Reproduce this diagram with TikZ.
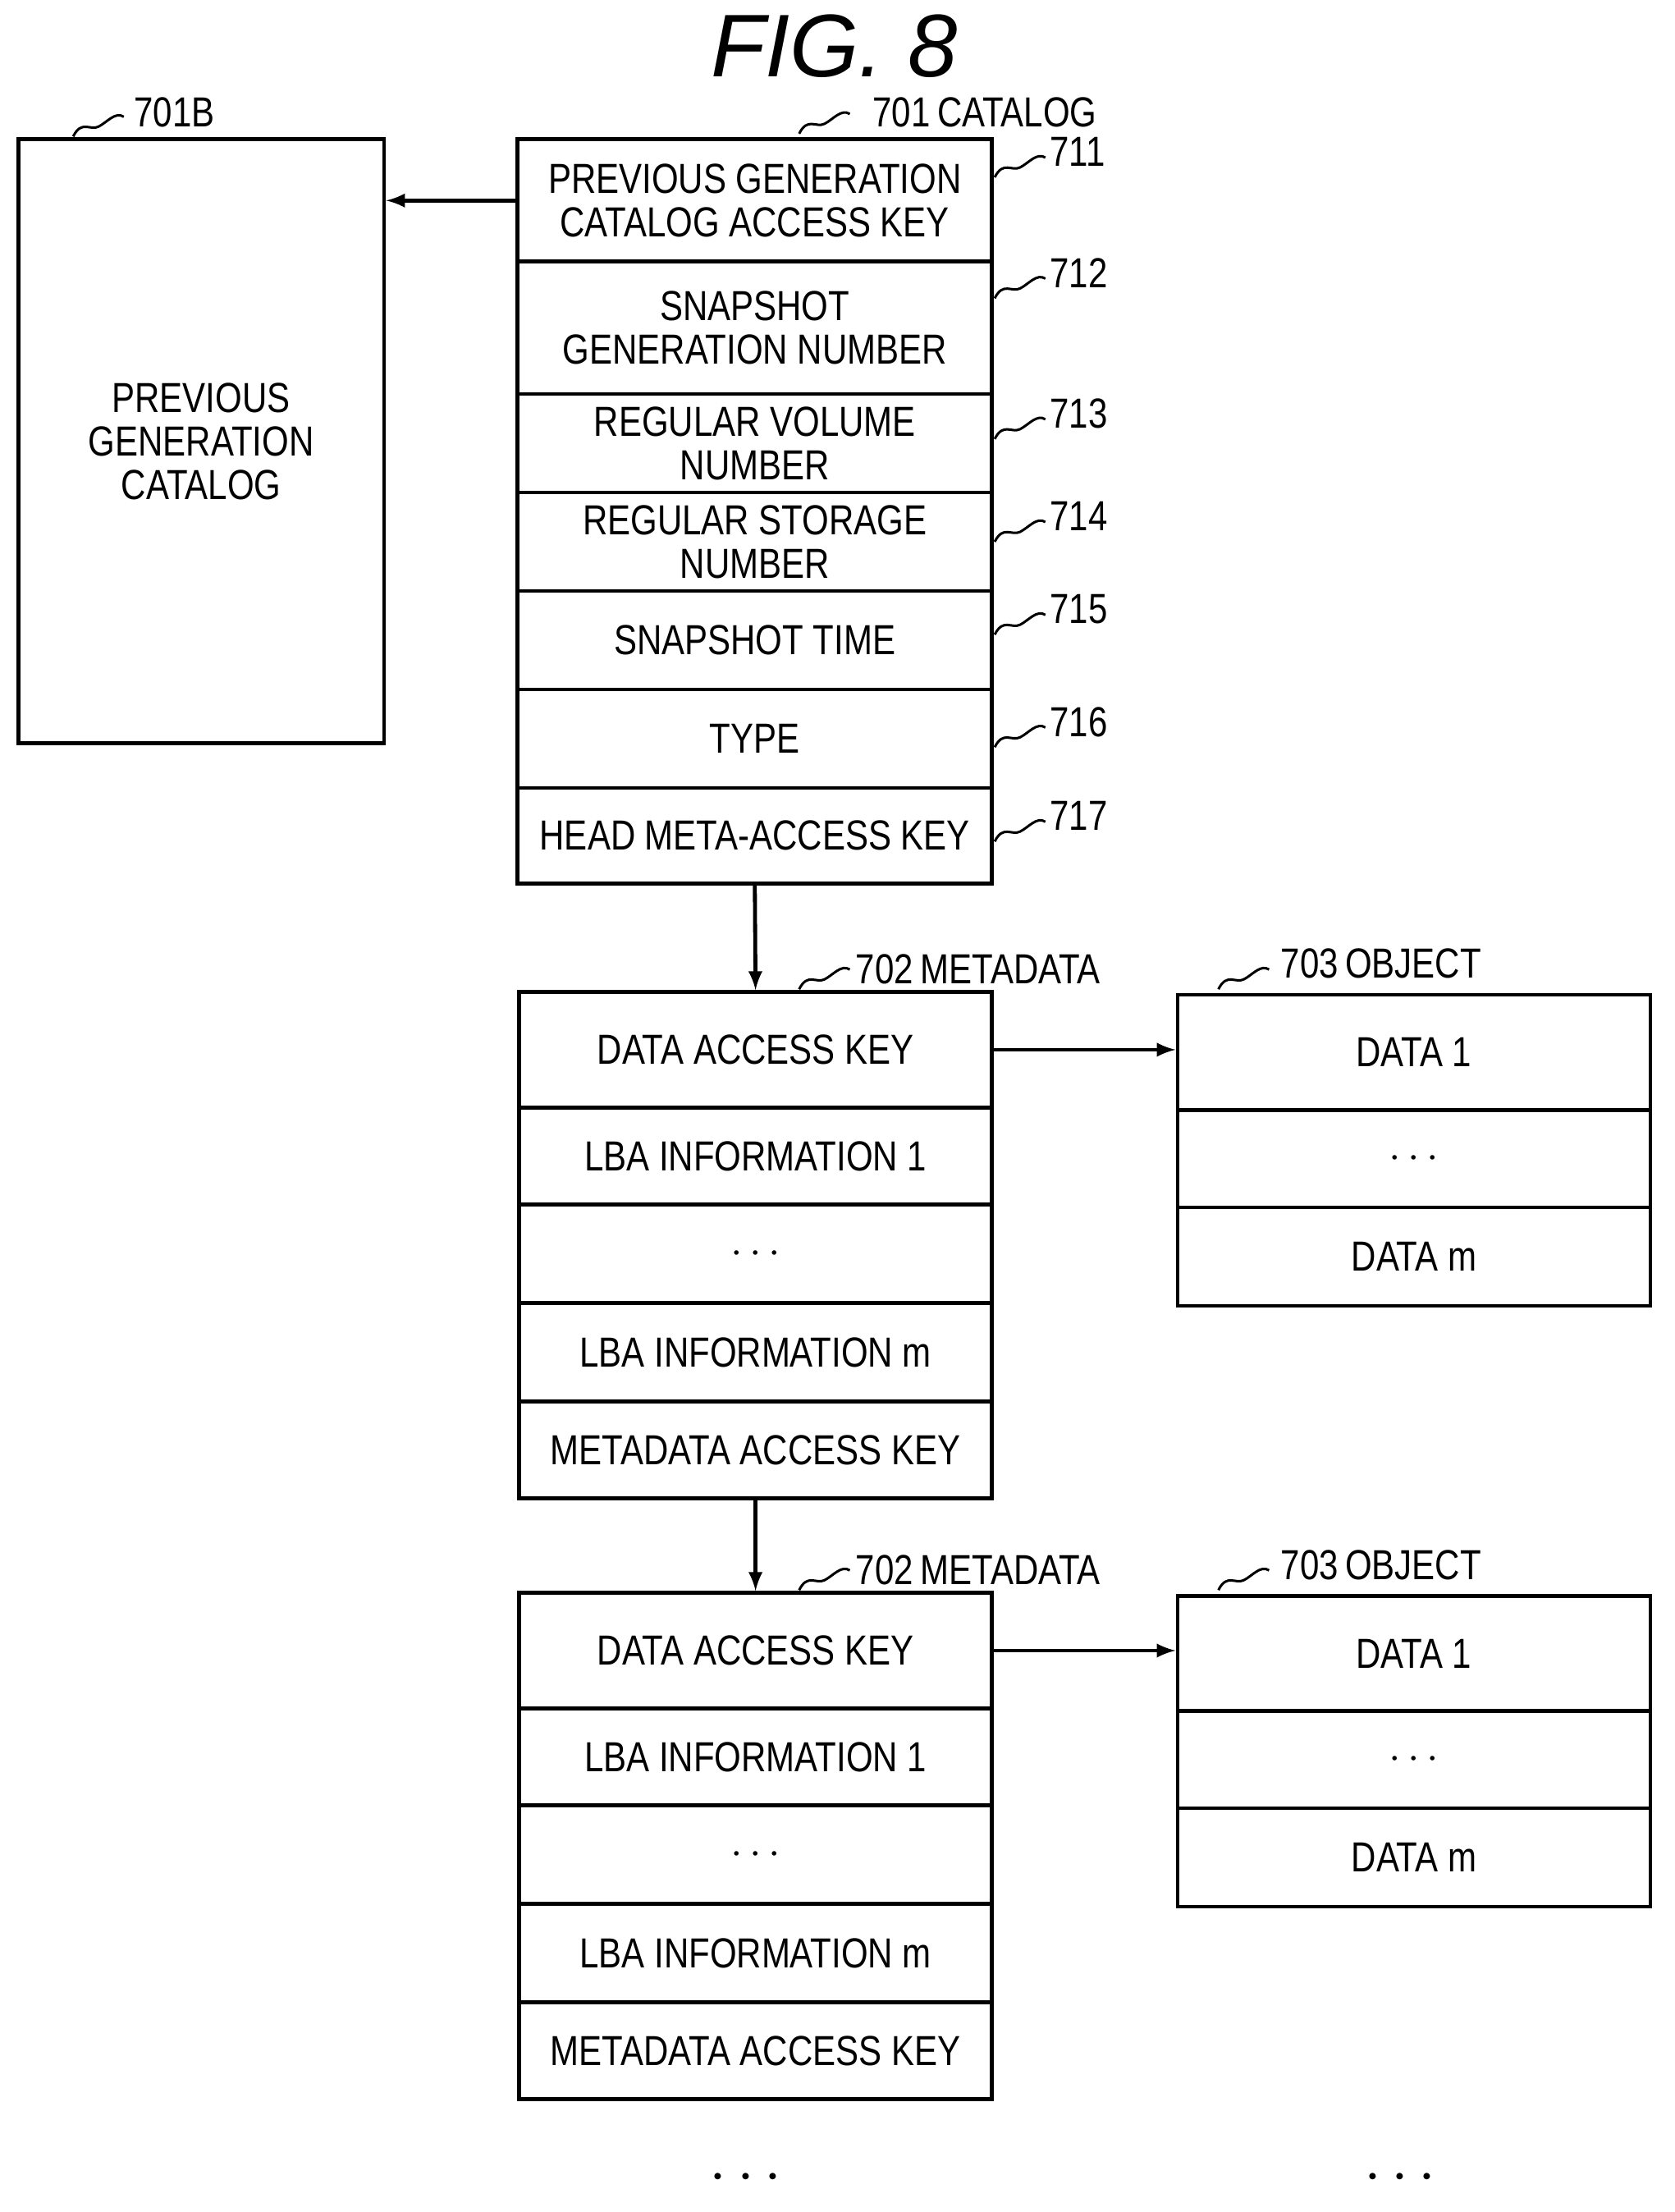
\documentclass[tikz,border=0pt]{standalone}
\usepackage{fontspec}
\setmainfont[FakeStretch=0.82]{Liberation Sans}
\newfontfamily\titlefont{Liberation Sans}
\usetikzlibrary{positioning}
\tikzset{
  Box/.style={draw,line width=1.6pt,align=center,inner sep=0pt,
    font=\fontsize{17}{17.6}\selectfont},
  Ref/.style={anchor=west,inner sep=0pt,font=\fontsize{17}{18}\selectfont},
  Arrow/.style={-latex,line width=1.6pt},
  squig/.pic={\draw[line width=1pt] (0,0) .. controls (6,-12) and (12,-4) .. (18,-7)
     .. controls (24,-10) and (30,-18) .. (36,-14);}
}
% rows: name, x-left, y-top, width, height, text
\newcommand{\Row}[6]{%
  \node[Box,minimum width=#4*0.02cm,minimum height=#5*0.02cm] (#1) at (#2+#4/2,#3+#5/2) {#6};}
\begin{document}
\begin{tikzpicture}[x=0.02cm,y=-0.02cm]
  \useasboundingbox (0,0) rectangle (1190,1572);
  \node[font=\titlefont\itshape\fontsize{36}{40}\selectfont] (title) at (593,33) {FIG. 8};

  % previous generation catalog
  \Row{prev}{13}{99}{260}{429}{PREVIOUS\\GENERATION\\CATALOG}
  \node[Box,draw=none] at (140,318) {};
  \pic at (52,97) {squig};
  \node[Ref] (prevref) at (95,80) {701B};

  % catalog
  \Row{cat1}{368}{99}{337}{87}{PREVIOUS GENERATION\\CATALOG ACCESS KEY}
  \Row{cat2}{368}{186}{337}{94}{SNAPSHOT\\GENERATION NUMBER}
  \Row{cat3}{368}{280}{337}{70}{REGULAR VOLUME\\NUMBER}
  \Row{cat4}{368}{350}{337}{70}{REGULAR STORAGE\\NUMBER}
  \Row{cat5}{368}{420}{337}{70}{SNAPSHOT TIME}
  \Row{cat6}{368}{490}{337}{70}{TYPE}
  \Row{cat7}{368}{560}{337}{68}{HEAD META-ACCESS KEY}
  \pic at (568,95) {squig};
  \node[Ref] (catref) at (620,80) {701\,CATALOG};
  \foreach \i/\y in {1/126,2/212,3/312,4/385,5/451,6/531,7/598}{
    \pic at (707,\y) {squig};
    \node[Ref] at (746,\y-18) {71\i};
  }
  \draw[Arrow] (cat1.west) -- (prev.east |- cat1.west);

  % metadata and objects
  \foreach \k/\t/\o in {1/705/707,2/1132/1134}{
    \Row{meta\k a}{369}{\t}{336}{82}{DATA ACCESS KEY}
    \Row{meta\k b}{369}{\t+82}{336}{69}{LBA INFORMATION 1}
    \Row{meta\k c}{369}{\t+151}{336}{70}{\textbf{$\cdots$}}
    \Row{meta\k d}{369}{\t+221}{336}{70}{LBA INFORMATION m}
    \Row{meta\k e}{369}{\t+291}{336}{69}{METADATA ACCESS KEY}
    \pic at (568,\t-2) {squig};
    \node[Ref] at (608,\t-16) {702\,METADATA};
    \Row{obj\k a}{837}{\o}{336}{82}{DATA 1}
    \Row{obj\k b}{837}{\o+82}{336}{69}{\textbf{$\cdots$}}
    \Row{obj\k c}{837}{\o+151}{336}{70}{DATA m}
    \pic at (866,\o-4) {squig};
    \node[Ref] at (910,\o-22) {703\,OBJECT};
    \draw[Arrow] (meta\k a.east) -- (obj\k a.west |- meta\k a.east);
  }
  \draw[Arrow] (cat7.south) -- (meta1a.north);
  \draw[Arrow] (meta1e.south) -- (meta2a.north);

  \node[font=\fontsize{24}{24}\selectfont\bfseries] (moremeta) at (530,1548) {$\cdots$};
  \node[font=\fontsize{24}{24}\selectfont\bfseries] (moreobj) at (995,1548) {$\cdots$};
\end{tikzpicture}
\end{document}
